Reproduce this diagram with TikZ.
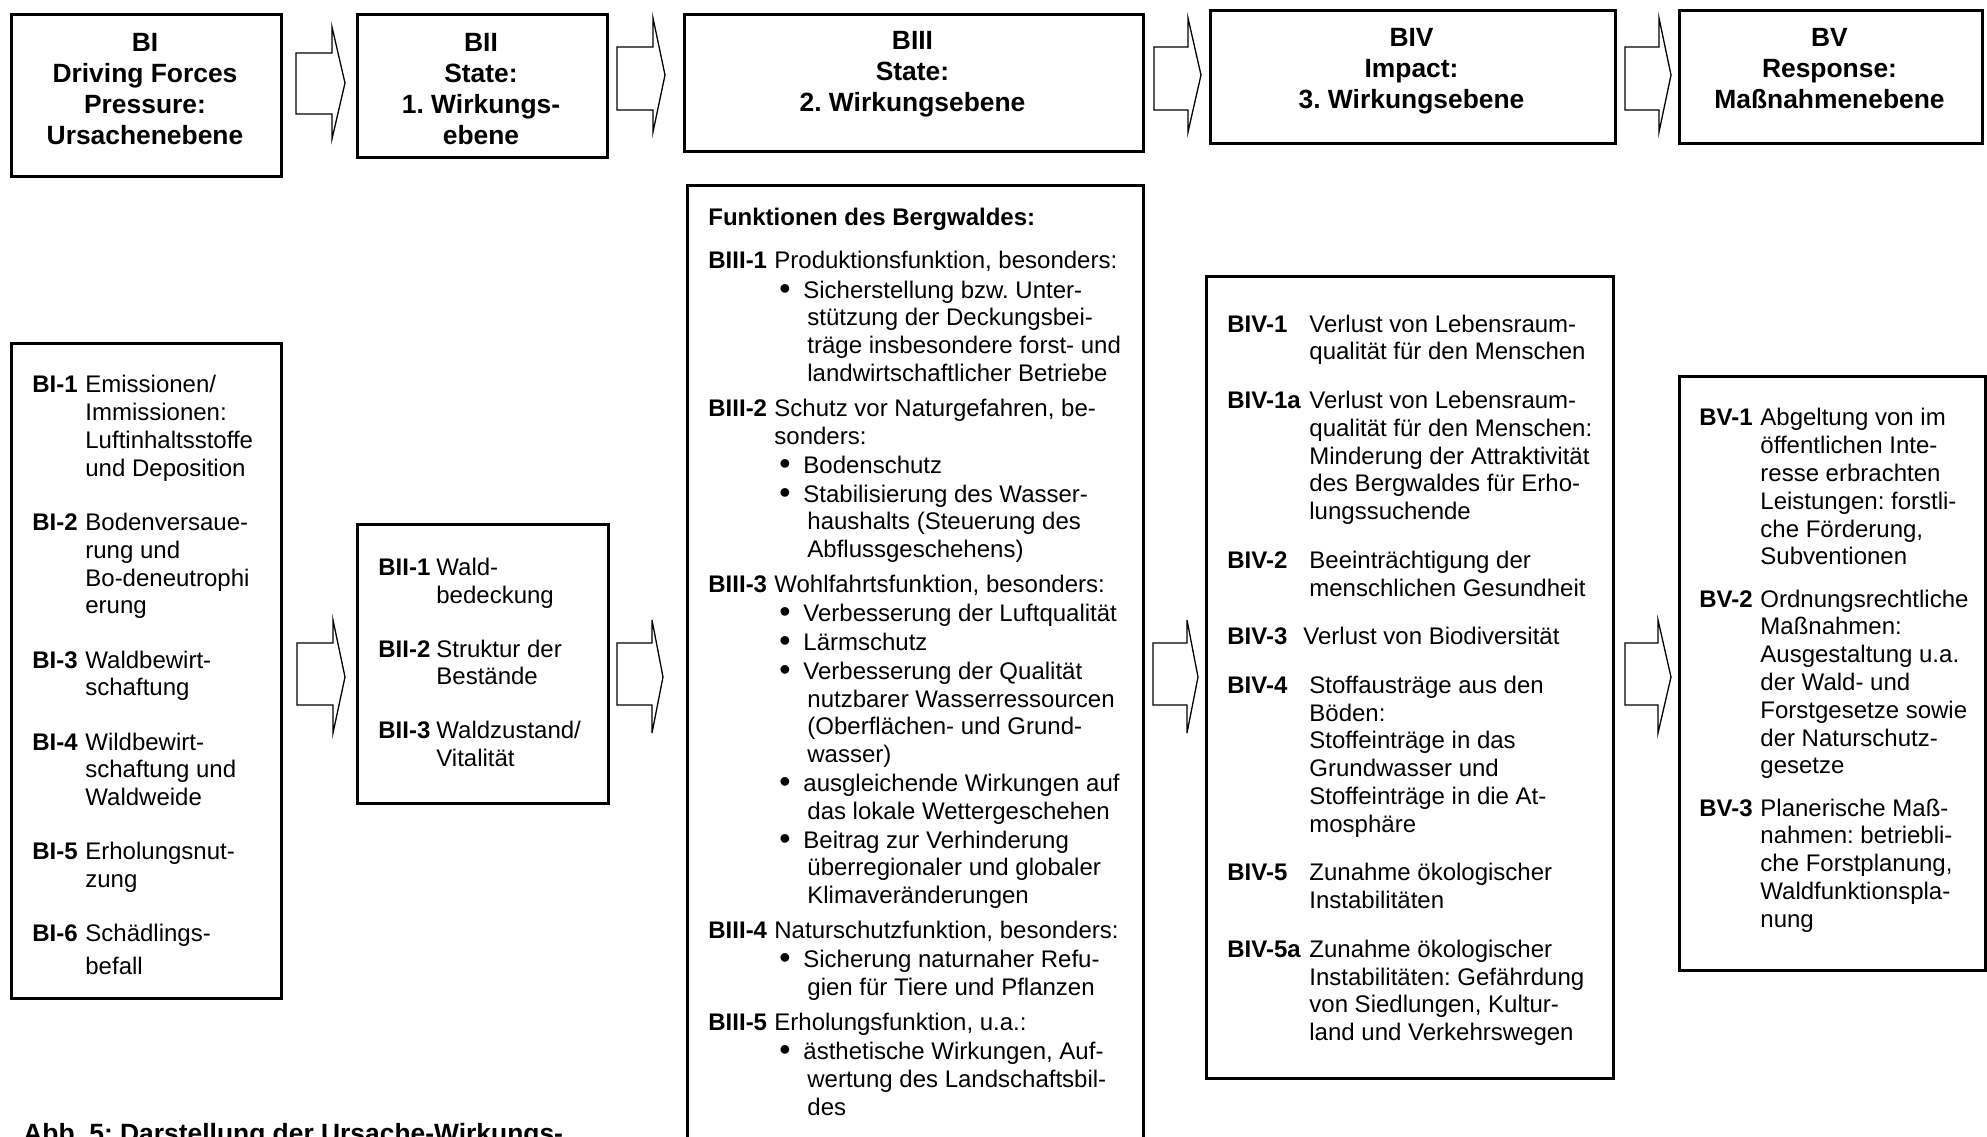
\documentclass[tikz,border=0pt]{standalone}
\usepackage{fontspec}
\setmainfont{Liberation Sans}
\frenchspacing
\newcommand\lbl[2]{\makebox[#1][l]{\bfseries #2}}
\newcommand\ind[1]{\hspace*{#1}}
\newcommand\bul{\hspace*{35.5pt}\makebox[12pt][l]{\raisebox{-0.6pt}{\fontsize{16}{13.9}\selectfont •}}}
\newcommand\cont{\hspace*{49.5pt}}
\newcommand\blockarr[8]{\draw[blk] (#1,#5) -- (#2,#5) -- (#2,#4) -- (#3,#6) -- (#2,#8) -- (#2,#7) -- (#1,#7) -- cycle;}
\begin{document}
\begin{tikzpicture}[x=0.5pt,y=-0.5pt,
  box/.style={draw, line width=1.7pt, inner sep=0pt, anchor=north west},
  blk/.style={draw, line width=0.65pt, line join=miter},
  head/.style={anchor=north, inner sep=0pt, font=\fontsize{13.2}{15.5}\selectfont\bfseries},
  body/.style={anchor=north west, inner sep=0pt, font=\fontsize{12}{13.9}\selectfont}]
\useasboundingbox (0,0) rectangle (1987,1136);
\clip (0,0) rectangle (1987,1136);
\fill[white] (0,0) rectangle (1987,1136);

% top boxes
\node[box, minimum width=135pt, minimum height=81pt] (tBI) at (10,13) {};
\node[box, minimum width=125pt, minimum height=71.5pt] (tBII) at (356,13) {};
\node[box, minimum width=229.5pt, minimum height=68.5pt] (tBIII) at (683,13) {};
\node[box, minimum width=202.5pt, minimum height=66.5pt] (tBIV) at (1209,9) {};
\node[box, minimum width=151.5pt, minimum height=66.5pt] (tBV) at (1678,9) {};

\node[head] (hBI) at (145,29.6) {\begin{tabular}{@{}c@{}}BI\\Driving Forces\\Pressure:\\Ursachenebene\end{tabular}};
\node[head] (hBII) at (481,29.6) {\begin{tabular}{@{}c@{}}BII\\State:\\1. Wirkungs-\\ebene\end{tabular}};
\node[head] (hBIII) at (912.5,27) {\begin{tabular}{@{}c@{}}BIII\\State:\\2. Wirkungsebene\end{tabular}};
\node[head] (hBIV) at (1411.5,24.5) {\begin{tabular}{@{}c@{}}BIV\\Impact:\\3. Wirkungsebene\end{tabular}};
\node[head] (hBV) at (1829.5,24.5) {\begin{tabular}{@{}c@{}}BV\\Response:\\Maßnahmenebene\end{tabular}};

% top arrows
\blockarr{296}{332}{345}{27}{53}{83}{114}{139}
\blockarr{617}{653}{665}{18}{47}{75}{110}{132}
\blockarr{1154}{1188}{1201}{18}{47}{75}{110}{132}
\blockarr{1625}{1659}{1671}{18}{47}{75}{110}{132}

% lower boxes
\node[box, minimum width=135pt, minimum height=327.5pt] (lBI) at (10,342) {};
\node[box, minimum width=125.5pt, minimum height=139.5pt] (lBII) at (356,523) {};
\node[box, minimum width=228pt, minimum height=488pt] (lBIII) at (686,184) {};
\node[box, minimum width=203.5pt, minimum height=401pt] (lBIV) at (1205,275) {};
\node[box, minimum width=153pt, minimum height=297pt] (lBV) at (1678,375) {};

% lower arrows
\blockarr{297}{333}{345}{620}{643}{677}{705}{733}
\blockarr{617}{652}{663}{620}{643}{677}{705}{733}
\blockarr{1153}{1187}{1198}{620}{643}{677}{705}{733}
\blockarr{1625}{1658}{1671}{620}{643}{677}{705}{733}

% BI list
\node[body] (tI) at (32,373.1) {\begin{tabular}{@{}l@{}}
\lbl{26.5pt}{BI-1}Emissionen/\\
\ind{26.5pt}Immissionen:\\
\ind{26.5pt}Luftinhaltsstoffe\\
\ind{26.5pt}und Deposition\\[13.2pt]
\lbl{26.5pt}{BI-2}Bodenversaue-\\
\ind{26.5pt}rung und\\
\ind{26.5pt}Bo-deneutrophi\\
\ind{26.5pt}erung\\[13.2pt]
\lbl{26.5pt}{BI-3}Waldbewirt-\\
\ind{26.5pt}schaftung\\[13.2pt]
\lbl{26.5pt}{BI-4}Wildbewirt-\\
\ind{26.5pt}schaftung und\\
\ind{26.5pt}Waldweide\\[13.2pt]
\lbl{26.5pt}{BI-5}Erholungsnut-\\
\ind{26.5pt}zung\\[13.2pt]
\lbl{26.5pt}{BI-6}Schädlings-\\[2.5pt]
\ind{26.5pt}befall
\end{tabular}};

% BII list
\node[body] (tII) at (378,555.6) {\begin{tabular}{@{}l@{}}
\lbl{29pt}{BII-1}Wald-\\
\ind{29pt}bedeckung\\[13pt]
\lbl{29pt}{BII-2}Struktur der\\
\ind{29pt}Bestände\\[13pt]
\lbl{29pt}{BII-3}Waldzustand/\\
\ind{29pt}Vitalität
\end{tabular}};

% BIII list
\node[body] (tIII) at (708,205.8) {\begin{tabular}{@{}l@{}}
{\bfseries Funktionen des Bergwaldes:}\\[7.4pt]
\lbl{33pt}{BIII-1}Produktionsfunktion, besonders:\\[1pt]
\bul Sicherstellung bzw. Unter-\\
\cont stützung der Deckungsbei-\\
\cont träge insbesondere forst- und\\
\cont landwirtschaftlicher Betriebe\\[3.7pt]
\lbl{33pt}{BIII-2}Schutz vor Naturgefahren, be-\\
\ind{33pt}sonders:\\[0.5pt]
\bul Bodenschutz\\[0.5pt]
\bul Stabilisierung des Wasser-\\
\cont haushalts (Steuerung des\\
\cont Abflussgeschehens)\\[3.7pt]
\lbl{33pt}{BIII-3}Wohlfahrtsfunktion, besonders:\\[0.5pt]
\bul Verbesserung der Luftqualität\\[0.5pt]
\bul Lärmschutz\\[0.5pt]
\bul Verbesserung der Qualität\\
\cont nutzbarer Wasserressourcen\\
\cont (Oberflächen- und Grund-\\
\cont wasser)\\[0.5pt]
\bul ausgleichende Wirkungen auf\\
\cont das lokale Wettergeschehen\\[0.5pt]
\bul Beitrag zur Verhinderung\\
\cont überregionaler und globaler\\
\cont Klimaveränderungen\\[3.7pt]
\lbl{33pt}{BIII-4}Naturschutzfunktion, besonders:\\[0.5pt]
\bul Sicherung naturnaher Refu-\\
\cont gien für Tiere und Pflanzen\\[3.7pt]
\lbl{33pt}{BIII-5}Erholungsfunktion, u.a.:\\[0.5pt]
\bul ästhetische Wirkungen, Auf-\\
\cont wertung des Landschaftsbil-\\
\cont des
\end{tabular}};

% BIV list
\node[body] (tIV) at (1227,312.2) {\begin{tabular}{@{}l@{}}
\lbl{41pt}{BIV-1}Verlust von Lebensraum-\\
\ind{41pt}qualität für den Menschen\\[10.4pt]
\lbl{41pt}{BIV-1a}Verlust von Lebensraum-\\
\ind{41pt}qualität für den Menschen:\\
\ind{41pt}Minderung der Attraktivität\\
\ind{41pt}des Bergwaldes für Erho-\\
\ind{41pt}lungssuchende\\[10.4pt]
\lbl{41pt}{BIV-2}Beeinträchtigung der\\
\ind{41pt}menschlichen Gesundheit\\[10.4pt]
\lbl{38pt}{BIV-3}Verlust von Biodiversität\\[10.4pt]
\lbl{41pt}{BIV-4}Stoffausträge aus den\\
\ind{41pt}Böden:\\
\ind{41pt}Stoffeinträge in das\\
\ind{41pt}Grundwasser und\\
\ind{41pt}Stoffeinträge in die At-\\
\ind{41pt}mosphäre\\[10.4pt]
\lbl{41pt}{BIV-5}Zunahme ökologischer\\
\ind{41pt}Instabilitäten\\[10.4pt]
\lbl{41pt}{BIV-5a}Zunahme ökologischer\\
\ind{41pt}Instabilitäten: Gefährdung\\
\ind{41pt}von Siedlungen, Kultur-\\
\ind{41pt}land und Verkehrswegen
\end{tabular}};

% BV list
\node[body] (tV) at (1699,406) {\begin{tabular}{@{}l@{}}
\lbl{30.5pt}{BV-1}Abgeltung von im\\
\ind{30.5pt}öffentlichen Inte-\\
\ind{30.5pt}resse erbrachten\\
\ind{30.5pt}Leistungen: forstli-\\
\ind{30.5pt}che Förderung,\\
\ind{30.5pt}Subventionen\\[7.2pt]
\lbl{30.5pt}{BV-2}Ordnungsrechtliche\\
\ind{30.5pt}Maßnahmen:\\
\ind{30.5pt}Ausgestaltung u.a.\\
\ind{30.5pt}der Wald- und\\
\ind{30.5pt}Forstgesetze sowie\\
\ind{30.5pt}der Naturschutz-\\
\ind{30.5pt}gesetze\\[7.2pt]
\lbl{30.5pt}{BV-3}Planerische Maß-\\
\ind{30.5pt}nahmen: betriebli-\\
\ind{30.5pt}che Forstplanung,\\
\ind{30.5pt}Waldfunktionspla-\\
\ind{30.5pt}nung
\end{tabular}};

% caption (cut off at the lower edge, as in the reference)
\node[anchor=base west, inner sep=0pt, font=\fontsize{13.2}{15.5}\selectfont\bfseries] (cap) at (23,1142) {Abb. 5: Darstellung der Ursache-Wirkungs-};
\end{tikzpicture}
\end{document}
